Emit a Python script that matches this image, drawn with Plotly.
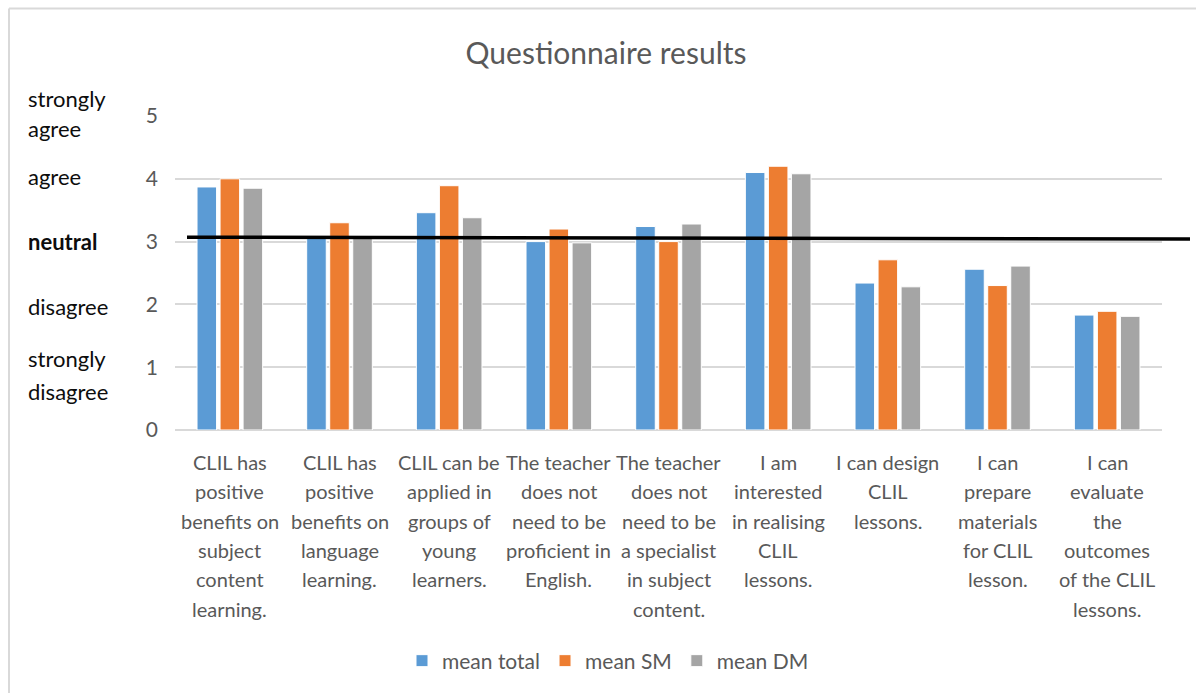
import plotly.graph_objects as go

# ---------------- data ----------------
CATEGORY_LINES = [
    ["CLIL has", "positive", "benefits on", "subject", "content", "learning."],
    ["CLIL has", "positive", "benefits on", "language", "learning."],
    ["CLIL can be", "applied in", "groups of", "young", "learners."],
    ["The teacher", "does not", "need to be", "proficient in", "English."],
    ["The teacher", "does not", "need to be", "a specialist", "in subject", "content."],
    ["I am", "interested", "in realising", "CLIL", "lessons."],
    ["I can design", "CLIL", "lessons."],
    ["I can", "prepare", "materials", "for CLIL", "lesson."],
    ["I can", "evaluate", "the", "outcomes", "of the CLIL", "lessons."],
]
categories = [" ".join(lines) for lines in CATEGORY_LINES]

mean_total = [3.87, 3.09, 3.46, 3.00, 3.24, 4.10, 2.34, 2.56, 1.83]
mean_SM    = [4.00, 3.30, 3.89, 3.20, 3.00, 4.20, 2.71, 2.30, 1.89]
mean_DM    = [3.85, 3.08, 3.38, 2.98, 3.28, 4.08, 2.28, 2.61, 1.81]

series_names = ["mean total", "mean SM", "mean DM"]
y_ticks = [0, 1, 2, 3, 4, 5]
scale_labels = [  # (tick value, lines)
    (5, ["strongly", "agree"]),
    (4, ["agree"]),
    (3, ["<b>neutral</b>"]),
    (2, ["disagree"]),
    (1, ["strongly", "disagree"]),
]
neutral_line = [3.07, 3.04]  # reference line start / end values

# ---------------- styling ----------------
W, H = 1196, 693
ML, MR, MT, MB = 175, 34, 116, 263
PW = W - ML - MR
PH = H - MT - MB
FONT = "Lato, 'Open Sans', sans-serif"
TXT = "#595959"
colors = ["#5B9BD5", "#ED7D31", "#A5A5A5"]


def px_x(p):
    return (p - ML) / PW


def px_y(q):
    return (H - MB - q) / PH


fig = go.Figure()
for name, vals, col in zip(series_names, [mean_total, mean_SM, mean_DM], colors):
    fig.add_trace(go.Bar(
        x=categories, y=vals, name=name,
        marker=dict(color=col, line=dict(color="white", width=1)),
    ))

annotations = []
# category labels, line by line
for cat, lines in zip(categories, CATEGORY_LINES):
    for i, ln in enumerate(lines):
        annotations.append(dict(
            x=cat, xref="x", y=px_y(462 + i * 29.3), yref="paper",
            text=ln, showarrow=False, xanchor="center", yanchor="middle",
            font=dict(family=FONT, size=20, color=TXT),
        ))

# scale labels on the left (pixel offsets relative to tick line)
tick_px = {v: (H - MB) - v * PH / 5 for v in y_ticks}
label_offsets = {5: [-17.5, 12.5], 4: [-2.5], 3: [0], 2: [2], 1: [-9, 24]}
for v, lines in scale_labels:
    for ln, o in zip(lines, label_offsets[v]):
        annotations.append(dict(
            x=px_x(26), xref="paper", y=px_y(tick_px[v] + o), yref="paper",
            text=ln, showarrow=False, xanchor="left", yanchor="middle",
            font=dict(family=FONT, size=22, color="#0d0d0d"),
        ))

shapes = [
    # neutral reference line
    dict(type="line", xref="paper", yref="y",
         x0=px_x(187), x1=px_x(1190), y0=neutral_line[0], y1=neutral_line[1],
         line=dict(color="black", width=3.5)),
    # chart frame (top & left edges)
    dict(type="line", xref="paper", yref="paper",
         x0=px_x(9), x1=px_x(1196), y0=px_y(8.5), y1=px_y(8.5),
         line=dict(color="#D9D9D9", width=2)),
    dict(type="line", xref="paper", yref="paper",
         x0=px_x(9), x1=px_x(9), y0=px_y(8.5), y1=px_y(693),
         line=dict(color="#D9D9D9", width=2)),
]

fig.update_layout(
    width=W, height=H,
    margin=dict(l=ML, r=MR, t=MT, b=MB),
    paper_bgcolor="white", plot_bgcolor="white",
    title=dict(text="Questionnaire results", x=606 / W, xref="container",
               xanchor="center", y=1 - 53 / H, yanchor="middle",
               font=dict(family=FONT, size=30, color=TXT)),
    barmode="group", bargap=0.37, bargroupgap=0.15,
    font=dict(family=FONT, color=TXT),
    xaxis=dict(showticklabels=False, showgrid=False, zeroline=False,
               showline=False, ticks=""),
    yaxis=dict(range=[0, 5], tickvals=y_ticks, showgrid=True,
               gridcolor="#D9D9D9", gridwidth=1.5, zeroline=True,
               zerolinecolor="#D9D9D9", zerolinewidth=1.5, showline=False,
               ticks="", ticklabelstandoff=16,
               tickfont=dict(family=FONT, size=21, color=TXT)),
    legend=dict(orientation="h", x=px_x(608), xanchor="center",
                y=px_y(661), yanchor="middle",
                font=dict(family=FONT, size=21, color=TXT),
                itemwidth=30, traceorder="normal"),
    annotations=annotations,
    shapes=shapes,
)

fig.write_html("out.html",
               config={"displayModeBar": False},
               post_script="document.body.style.margin='0';")
